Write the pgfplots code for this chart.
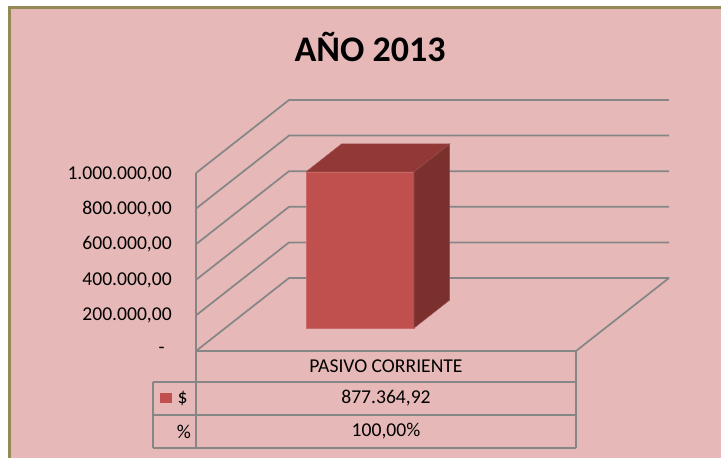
\documentclass[border=0pt]{standalone}
\usepackage{fontspec}
\setmainfont{Carlito}
\usepackage{pgfplots}
\pgfplotsset{compat=1.18}
\definecolor{bgpink}{RGB}{230,185,184}
\definecolor{frameolive}{RGB}{148,138,84}
\definecolor{gridgray}{RGB}{134,134,134}
\definecolor{barfront}{RGB}{192,80,77}
\definecolor{bartop}{RGB}{146,56,54}
\definecolor{barside}{RGB}{124,48,46}
\begin{document}
\begin{tikzpicture}[x=0.75pt,y=-0.75pt]
\useasboundingbox (0,0) rectangle (721,458);
\fill[white] (0,0) rectangle (721,458);
\fill[frameolive] (8,6) rectangle (721,458);
\fill[bgpink] (11,9) rectangle (721,458);
\node[font=\fontsize{27}{32}\selectfont\bfseries] at (370,47) {AÑO 2013};

% value axis labels
\begin{scope}[every node/.style={anchor=east, font=\fontsize{14.7}{17}\selectfont, inner sep=0pt}]
\node at (172,174) {1.000.000,00};
\node at (172,209) {800.000,00};
\node at (172,244.5) {600.000,00};
\node at (172,280) {400.000,00};
\node at (172,315.5) {200.000,00};
\node at (165,350) {-};
\end{scope}

\begin{axis}[
  disabledatascaling,
  x={(285pt,0pt)}, y={(69.75pt,54.75pt)}, z={(0pt,133.5pt)},
  z filter/.expression={z/1000000},
  xmin=0,xmax=1,ymin=0,ymax=1,zmin=0,zmax=1,
  hide axis, clip=false,
  anchor=origin, at={(147pt,-263.25pt)},
]
% walls and gridlines
\addplot3[gridgray, line width=1.3pt] coordinates {(0,0,0) (0,1,0) (1,1,0)};
\addplot3[gridgray, line width=1.3pt] coordinates {(0,0,200000) (0,1,200000) (1,1,200000)};
\addplot3[gridgray, line width=1.3pt] coordinates {(0,0,400000) (0,1,400000) (1,1,400000)};
\addplot3[gridgray, line width=1.3pt] coordinates {(0,0,600000) (0,1,600000) (1,1,600000)};
\addplot3[gridgray, line width=1.3pt] coordinates {(0,0,800000) (0,1,800000) (1,1,800000)};
\addplot3[gridgray, line width=1.3pt] coordinates {(0,0,1000000) (0,1,1000000) (1,1,1000000)};
\addplot3[gridgray, line width=1.3pt] coordinates {(0,0,1000000) (0,0,0) (1,0,0) (1,1,0)};
% bar: PASIVO CORRIENTE = 877364.92
\addplot3[fill=barfront, draw=barfront!85!white, line width=0.4pt] coordinates {(0.2124,0.315,0) (0.4966,0.315,0) (0.4966,0.315,877364.92) (0.2124,0.315,877364.92) (0.2124,0.315,0)};
\addplot3[fill=bartop, draw=bartop!85!white, line width=0.4pt] coordinates {(0.2124,0.315,877364.92) (0.4966,0.315,877364.92) (0.4966,0.698,877364.92) (0.2124,0.698,877364.92) (0.2124,0.315,877364.92)};
\addplot3[fill=barside, draw=barside!85!white, line width=0.4pt] coordinates {(0.4966,0.315,0) (0.4966,0.698,0) (0.4966,0.698,877364.92) (0.4966,0.315,877364.92) (0.4966,0.315,0)};
\end{axis}

% data table
\begin{scope}[gridgray, line width=1.3pt]
\draw (196,351) -- (576,351);
\draw (153,382) -- (576,382);
\draw (153,415) -- (576,415);
\draw (153,448) -- (576,448);
\draw (196,351) -- (196,448);
\draw (576,351) -- (576,448);
\draw (153,382) -- (153,448);
\end{scope}
\fill[barfront] (160,393) rectangle (172,403);
\begin{scope}[every node/.style={font=\fontsize{14.7}{17}\selectfont, inner sep=0pt}]
\node at (386,366.5) {PASIVO CORRIENTE};
\node at (386,398.5) {877.364,92};
\node at (386,431.5) {100,00\%};
\node at (182.5,398.5) {\$};
\node at (184,431.5) {\%};
\end{scope}
\end{tikzpicture}
\end{document}
